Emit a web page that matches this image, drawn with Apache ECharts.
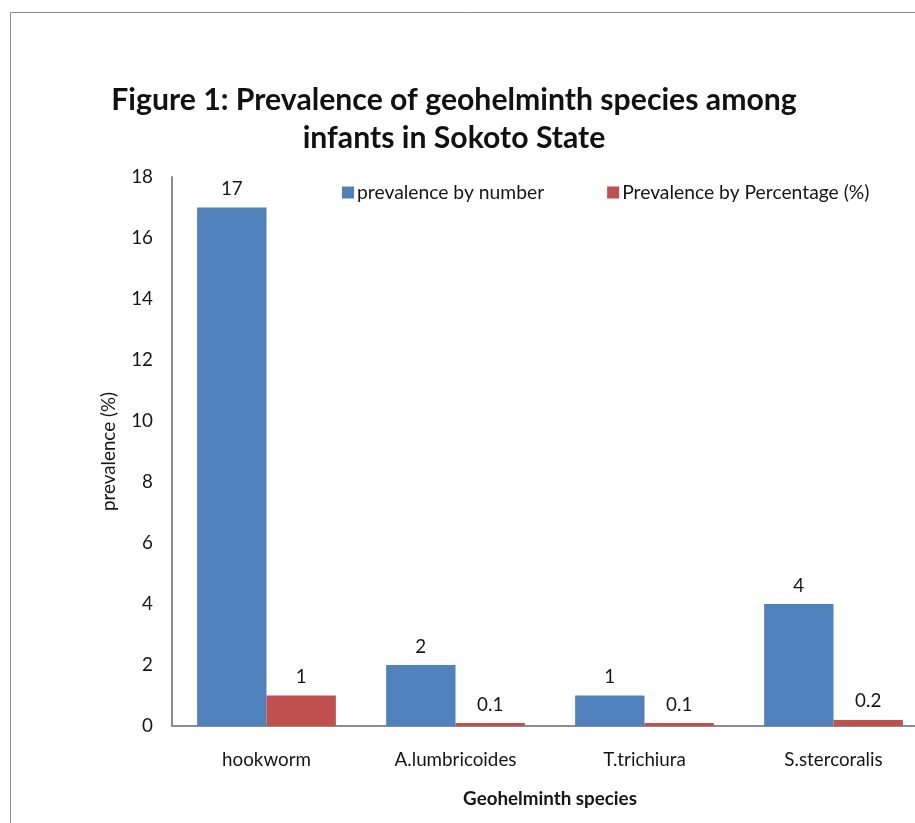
<!DOCTYPE html>
<html>
<head>
<meta charset="utf-8">
<script src="https://cdn.jsdelivr.net/npm/echarts@6/dist/echarts.min.js"></script>
<style>
  html, body { margin: 0; padding: 0; background: #ffffff; overflow: hidden; }
  /* the plot runs a little past the right edge of the page, so the canvas is wider than the window */
  #chart { width: 928px; height: 823px; }
</style>
</head>
<body>
<div id="chart"></div>
<script>
// Geohelminth species and their prevalence values
const species = ['hookworm', 'A.lumbricoides', 'T.trichiura', 'S.stercoralis'];
const prevalenceByNumber = [17, 2, 1, 4];
const prevalenceByPercentage = [1, 0.1, 0.1, 0.2];
const yTicks = { min: 0, max: 18, interval: 2 };

const FONT = 'Lato';
const TEXT = '#161616';
const FS = 18.8;

const chart = echarts.init(document.getElementById('chart'), null, { renderer: 'canvas' });

const labelStyle = {
  show: true,
  position: 'top',
  distance: 9,
  fontFamily: FONT,
  fontSize: FS,
  color: TEXT
};

chart.setOption({
  backgroundColor: '#ffffff',
  animation: false,
  title: {
    text: 'Figure 1: Prevalence of geohelminth species among\ninfants in Sokoto State',
    left: 449,
    top: 76,
    textAlign: 'center',
    textStyle: {
      fontFamily: FONT,
      fontWeight: 'bold',
      fontSize: 30.2,
      lineHeight: 38.5,
      color: '#111111'
    }
  },
  legend: {
    top: 183,
    left: 342,
    padding: 0,
    itemWidth: 12,
    itemHeight: 12,
    itemGap: 63,
    icon: 'rect',
    textStyle: { fontFamily: FONT, fontSize: 19.3, color: TEXT, padding: [0, 0, 0, -2] },
    data: ['prevalence by number', 'Prevalence by Percentage (%)']
  },
  grid: {
    left: 172,
    top: 177,
    right: 0,
    bottom: 97,
    containLabel: false
  },
  xAxis: {
    type: 'category',
    data: species,
    name: 'Geohelminth species',
    nameLocation: 'middle',
    nameGap: 63,
    nameTextStyle: { fontFamily: FONT, fontWeight: 'bold', fontSize: FS, color: TEXT },
    axisLine: { lineStyle: { color: '#8c8c8c', width: 2 } },
    axisTick: { show: false },
    axisLabel: { fontFamily: FONT, fontSize: FS, color: TEXT, margin: 24 }
  },
  yAxis: {
    type: 'value',
    min: yTicks.min,
    max: yTicks.max,
    interval: yTicks.interval,
    name: 'prevalence (%)',
    nameLocation: 'middle',
    nameGap: 54,
    nameRotate: 90,
    nameTextStyle: { fontFamily: FONT, fontSize: FS, color: TEXT },
    axisLine: { show: true, lineStyle: { color: '#8c8c8c', width: 2 } },
    axisTick: { show: false },
    splitLine: { show: false },
    axisLabel: { fontFamily: FONT, fontSize: FS, color: TEXT, margin: 19 }
  },
  series: [
    {
      name: 'prevalence by number',
      type: 'bar',
      data: prevalenceByNumber,
      barGap: '0%',
      barCategoryGap: '26.6%',
      itemStyle: { color: '#4F81BD' },
      label: labelStyle
    },
    {
      name: 'Prevalence by Percentage (%)',
      type: 'bar',
      data: prevalenceByPercentage,
      barGap: '0%',
      barCategoryGap: '26.6%',
      itemStyle: { color: '#C0504D' },
      label: labelStyle
    }
  ],
  graphic: [
    {
      type: 'rect',
      silent: true,
      z: -1,
      shape: { x: 10.5, y: 12.5, width: 1200, height: 1200 },
      style: { fill: 'none', stroke: '#8a8a8a', lineWidth: 1 }
    }
  ]
});
</script>
</body>
</html>
